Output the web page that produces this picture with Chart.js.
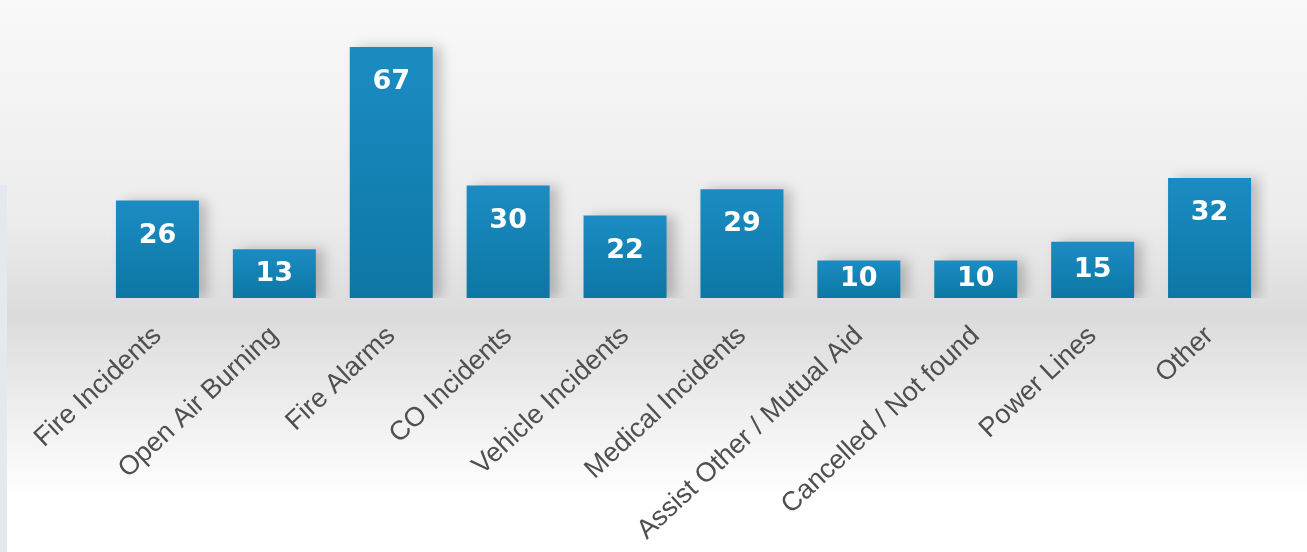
<!DOCTYPE html>
<html>
<head>
<meta charset="utf-8">
<script src="https://cdn.jsdelivr.net/npm/chart.js@4.4.0/dist/chart.umd.min.js"></script>
<style>
  html, body { margin: 0; padding: 0; background: #fff; }
  #wrap { width: 1307px; height: 552px; position: relative; }
</style>
</head>
<body>
<div id="wrap"><canvas id="calls"></canvas></div>
<script>
// call types and counts
let categories = [
  "Fire Incidents",
  "Open Air Burning",
  "Fire Alarms",
  "CO Incidents",
  "Vehicle Incidents",
  "Medical Incidents",
  "Assist Other / Mutual Aid",
  "Cancelled / Not found",
  "Power Lines",
  "Other",
];
let counts = [26, 13, 67, 30, 22, 29, 10, 10, 15, 32];

//grey band behind the bars
let backdrop = {
  id: "backdrop",
  beforeDraw(chart) {
    let ctx = chart.ctx;
    let w = chart.width, h = chart.height;
    let g = ctx.createLinearGradient(0, 0, 0, h);
    g.addColorStop(0, "#f9f9f9");
    g.addColorStop(0.4, "#ececec");
    g.addColorStop(0.57, "#dbdbdb");
    g.addColorStop(0.75, "#efefef");
    g.addColorStop(0.9, "#ffffff");
    g.addColorStop(1, "#ffffff");
    ctx.save();
    ctx.fillStyle = g;
    ctx.fillRect(0, 0, w, h);
    //thin strip on the left edge
    ctx.fillStyle = "#e4e9ef";
    ctx.fillRect(0, 185, 7, h - 185);
    ctx.restore();
  },
};

//soft shadow to the right of each bar
let barShadow = {
  id: "barShadow",
  beforeDatasetDraw(chart) {
    let ctx = chart.ctx;
    ctx.save();
    ctx.shadowColor = "rgba(0,0,0,0.22)";
    ctx.shadowBlur = 12;
    ctx.shadowOffsetX = 8;
    ctx.shadowOffsetY = 0;
  },
  afterDatasetDraw(chart) {
    chart.ctx.restore();
  },
};

//white numbers inside the bars
let valueLabels = {
  id: "valueLabels",
  afterDatasetsDraw(chart) {
    let ctx = chart.ctx;
    let meta = chart.getDatasetMeta(0);
    ctx.save();
    ctx.fillStyle = "#ffffff";
    ctx.font = "bold 27px 'DejaVu Sans', Verdana, sans-serif";
    ctx.textAlign = "center";
    ctx.textBaseline = "middle";
    meta.data.forEach((bar, i) => {
      let h = bar.base - bar.y;
      let y = bar.y + Math.min(35, h / 2);
      ctx.fillText(chart.data.datasets[0].data[i], bar.x, y);
    });
    ctx.restore();
  },
};

let barFill = (context) => {
  let chart = context.chart;
  if (!chart.chartArea || context.raw === undefined) return "#1585b8";
  let top = chart.scales.y.getPixelForValue(context.raw);
  let bottom = chart.scales.y.getPixelForValue(0);
  let g = chart.ctx.createLinearGradient(0, top, 0, bottom);
  g.addColorStop(0, "#1b8cc3");
  g.addColorStop(1, "#0d77a4");
  return g;
};

let myChart = new Chart(document.getElementById("calls"), {
  type: "bar",
  data: {
    labels: categories,
    datasets: [
      {
        data: counts,
        backgroundColor: barFill,
        borderWidth: 0,
        barPercentage: 0.71,
        categoryPercentage: 1,
      },
    ],
  },
  plugins: [backdrop, barShadow, valueLabels],
  options: {
    responsive: true,
    maintainAspectRatio: false,
    animation: false,
    layout: { padding: { left: 99, right: 39, top: 17, bottom: 0 } },
    plugins: {
      legend: { display: false },
      tooltip: { enabled: false },
    },
    scales: {
      x: {
        grid: { display: false, drawTicks: false },
        border: { display: false },
        ticks: {
          minRotation: 43,
          maxRotation: 43,
          padding: 22,
          color: "#4f4f4f",
          font: { family: "'Liberation Sans', Arial, sans-serif", size: 27 },
        },
        afterFit(scale) {
          scale.height = 254;
        },
      },
      y: {
        display: false,
        min: 0,
        max: 75,
      },
    },
  },
});
</script>
</body>
</html>
